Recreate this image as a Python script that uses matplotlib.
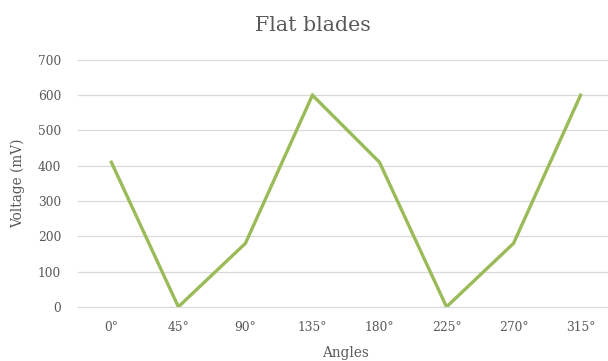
import matplotlib
matplotlib.use("Agg")
import matplotlib.pyplot as plt

angles = ["0°", "45°", "90°", "135°", "180°", "225°", "270°", "315°"]
voltage = [410, 0, 180, 600, 410, 0, 180, 600]

plt.rcParams['font.family'] = ['DejaVu Serif']
grey = '#595959'

fig = plt.figure(figsize=(6.08, 3.61), dpi=100)
ax = fig.add_axes([0.128, 0.150, 0.882, 0.684])

x = list(range(len(angles)))
ax.plot(x, voltage, color='#9BBB59', linewidth=2.4, solid_joinstyle='miter', zorder=3)

ax.set_xlim(-0.5, len(angles) - 0.5)
ax.set_ylim(0, 700)
ax.set_yticks(range(0, 701, 100))
ax.set_xticks(x)
ax.set_xticklabels(angles)
ax.grid(axis='y', color='#D9D9D9', linewidth=0.9)
for gl in ax.get_ygridlines():
    gl.set_clip_on(False)
ax.set_axisbelow(True)
for s in ax.spines.values():
    s.set_visible(False)
ax.tick_params(length=0, colors=grey, labelsize=8.8, pad=10)
ax.tick_params(axis='y', pad=12)

ax.set_xlabel('Angles', color=grey, fontsize=9.8, labelpad=9)
ax.set_ylabel('Voltage (mV)', color=grey, fontsize=9.8, labelpad=9)
fig.text(0.515, 0.928, 'Flat blades', color=grey, fontsize=14.8, ha='center', va='center')

fig.savefig('out.png')
